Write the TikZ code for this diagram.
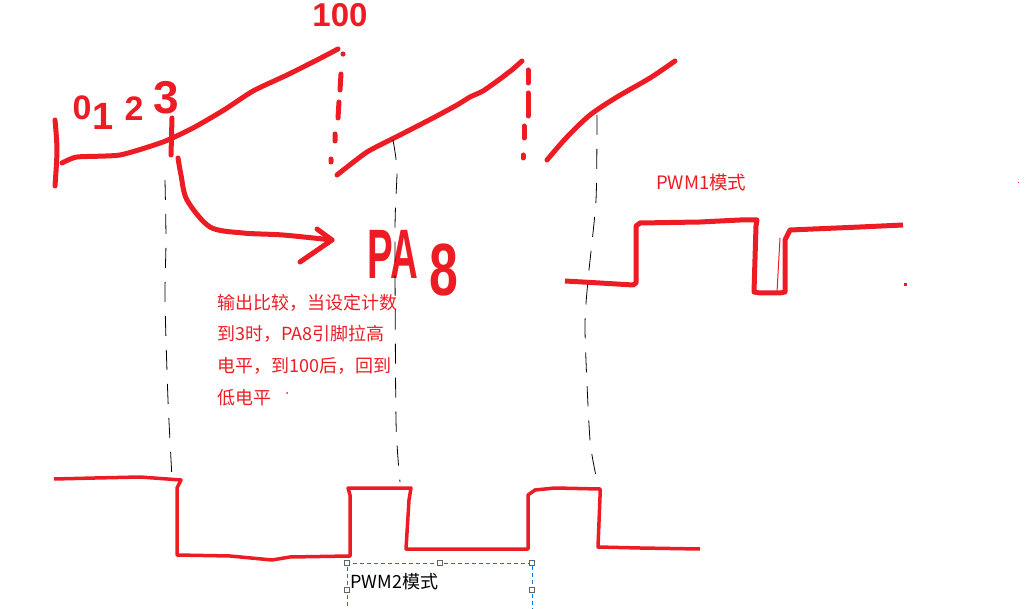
\documentclass[tikz,border=0pt]{standalone}
\usepackage{fontspec}
\setmainfont{Liberation Sans}
\newfontfamily\cjk{Noto Sans CJK SC}
\usetikzlibrary{arrows.meta}
\definecolor{pred}{RGB}{237,28,36}
\definecolor{selblue}{RGB}{0,120,215}
\definecolor{hgray}{RGB}{100,100,100}
\begin{document}
\begin{tikzpicture}[x=1pt,y=-1pt,
  ink/.style={draw=pred,line width=5pt,line cap=round,line join=round},
  wave/.style={draw=pred,line width=3.5pt,line join=round},
  thinred/.style={draw=pred,line width=1pt},
  guide/.style={draw=black,line width=0.8pt,dash pattern=on 20pt off 14pt},
  hand/.style={text=pred,inner sep=0pt},
  note/.style={text=pred,inner sep=0pt,anchor=west,font=\cjk\fontsize{18}{18}\selectfont},
  label/.style={inner sep=0pt,anchor=west,font=\cjk\fontsize{18}{18}\selectfont},
  handle/.style={draw=hgray,fill=white,line width=0.8pt,minimum size=5pt,inner sep=0pt}
]
\useasboundingbox (0,0) rectangle (1031,609);

% --- counter sawtooth ---
\draw[ink] plot[smooth,tension=0.5] coordinates {(55,120) (57,150) (55,186)};
\draw[ink] plot[smooth,tension=0.35] coordinates {(62,163) (77,157) (120,155) (163,142) (193,128) (224,110) (253,91) (287,75) (317,60) (338,49)};
\draw[ink] (172,118) -- (171,155);
\draw[ink] plot[smooth,tension=0.35] coordinates {(337,175) (367,152) (400,135) (433,118) (457,105) (470,97) (483,91) (500,79) (513,69) (522,61)};
\draw[ink] plot[smooth,tension=0.5] coordinates {(547,160) (567,137) (590,115) (617,97) (650,78) (675,61)};
% red dash-dot drops
\draw[ink] (343,54) -- (343,54.2) (341,74) -- (340,90) (339,102) -- (338,118) (335,134) -- (335,141) (331,159) -- (331,162);
\draw[ink] (528,70) -- (528,83) (528,93) -- (528,116) (524,126) -- (524,138) (523,155) -- (523,158);

% handwritten labels
\node[hand,font=\bfseries\fontsize{34}{34}\selectfont] (d0) at (82,108) {0};
\node[hand,font=\bfseries\fontsize{38}{38}\selectfont] (d1) at (103,116) {1};
\node[hand,font=\bfseries\fontsize{34}{34}\selectfont] (d2) at (134,109) {2};
\node[hand,font=\bfseries\fontsize{46}{46}\selectfont] (d3) at (166,98) {3};
\node[hand,font=\bfseries\fontsize{33}{33}\selectfont] (hundred) at (340,15) {100};
\node[hand,font=\bfseries\fontsize{70}{70}\selectfont,xscale=0.55] (pa) at (393,254) {PA};
\node[hand,font=\bfseries\fontsize{74}{74}\selectfont,xscale=0.7] (eight) at (444,270) {8};

% arrow from count 3 to PA8
\coordinate (astart) at (178,158);
\coordinate (atip) at (332,240);
\draw[ink] plot[smooth,tension=0.5] coordinates {(astart) (181,175) (187,200) (210,227) (243,233) (283,235) (atip)};
\draw[ink] (317,229) -- (atip) -- (300,262);

% explanation text
\node[note] (n1) at (217,303) {输出比较，当设定计数};
\node[note] (n2) at (217,334) {到3时，PA8引脚拉高};
\node[note] (n3) at (217,366) {电平，到100后，回到};
\node[note] (n4) at (217,398) {低电平};
\fill[pred] (287,393) circle (1pt);

% PWM1
\node[note,font=\cjk\fontsize{18.5}{18.5}\selectfont] (pwm1) at (656,182) {PWM1模式};
\draw[draw=pred,line width=5pt,line join=round] plot coordinates {(565,281) (600,283) (633,285) (636,283) (636,226) (640,223) (700,222) (740,220) (757,220) (756,226) (754,292) (760,293) (780,293) (785,292) (785,240) (790,230) (860,227) (903,225)};
\draw[thinred] (780,238) -- (777,292);
\fill[pred] (903.5,283.5) rectangle (906.5,286.5);
\fill[pred] (1017.5,182.5) rectangle (1018.5,183.5);

% PWM2
\draw[wave] plot coordinates {(54,479) (95,478) (140,477) (181,480) (177,488) (177,555) (230,556) (272,560) (290,557) (350,556) (350,495) (348,488) (411,488) (409,500) (406,549) (528,549) (528,495) (535,490) (555,488) (600,489) (600,497) (598,547) (640,548) (700,549)};

% guide lines
\draw[guide] plot[smooth,tension=0.4] coordinates {(165,180) (166,240) (165,300) (168,400) (172,478)};
\draw[guide] plot[smooth,tension=0.4] coordinates {(393,140) (397,170) (395,230) (396,420) (400,482)};
\draw[guide] plot[smooth,tension=0.4] coordinates {(597,115) (596,200) (588,280) (585,330) (590,440) (598,485)};

% PWM2 label with selection frame
\draw[selblue,line width=0.9pt,dash pattern=on 4pt off 3pt] (347,620) -- (347,563) -- (532,563) -- (532,620);
\node[label] (pwm2) at (350,582) {PWM2模式};
\node[handle] (h1) at (347,563) {};
\node[handle] (h2) at (440,563) {};
\node[handle] (h3) at (532,563) {};
\node[handle] (h4) at (347,590) {};
\node[handle] (h5) at (532,590) {};
\end{tikzpicture}
\end{document}
